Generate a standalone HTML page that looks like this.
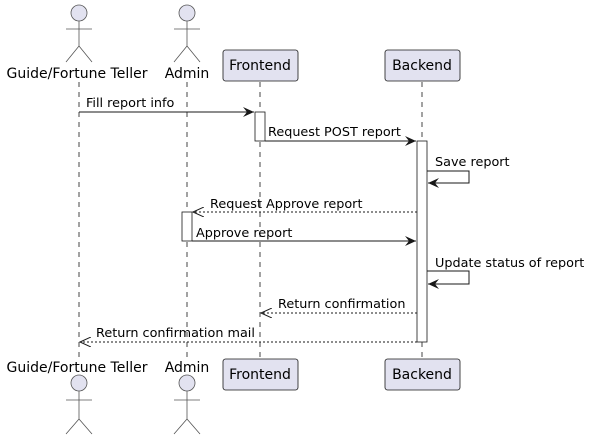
<!DOCTYPE html>
<html><head><style>body{margin:0;background:#fff}svg{display:block}text{font-family:"DejaVu Sans","Liberation Sans",sans-serif;fill:#000}</style></head><body>
<svg width="590" height="440" viewBox="0 0 590 440" xmlns="http://www.w3.org/2000/svg">
<defs>
<marker id="fa" markerWidth="12" markerHeight="10" refX="11" refY="5" orient="auto" markerUnits="userSpaceOnUse"><path d="M0,0 L11,5 L0,10 L4,5 Z" fill="#181818"/></marker>
<marker id="oa" markerWidth="12" markerHeight="10" refX="11" refY="5" orient="auto" markerUnits="userSpaceOnUse"><path d="M0,0 L11,5 L0,10" fill="none" stroke="#181818"/></marker>
</defs>
<g stroke="#181818" stroke-dasharray="5,5" stroke-width="0.8">
<line x1="79" y1="82" x2="79" y2="358"/><line x1="187" y1="82" x2="187" y2="358"/><line x1="260" y1="82" x2="260" y2="358"/><line x1="422" y1="82" x2="422" y2="358"/>
</g>
<g fill="#e2e2f0" stroke="#555" stroke-width="0.8">
<circle cx="79" cy="13" r="8"/><circle cx="187" cy="13" r="8"/>
<circle cx="79" cy="383" r="8"/><circle cx="187" cy="383" r="8"/>
</g>
<g fill="#e2e2f0" stroke="#181818" stroke-width="0.8">
<rect x="223" y="50" width="75" height="31" rx="2.5"/><rect x="385" y="50" width="75" height="31" rx="2.5"/>
<rect x="223" y="359" width="75" height="31" rx="2.5"/><rect x="385" y="359" width="75" height="31" rx="2.5"/>
</g>
<g stroke="#555" stroke-width="0.8" fill="none">
<path d="M79,21V46M66,29H92M66,62L79,46L92,62"/><path d="M187,21V46M174,29H200M174,62L187,46L200,62"/>
<path d="M79,391V419M66,400H92M66,434L79,419L92,434"/><path d="M187,391V419M174,400H200M174,434L187,419L200,434"/>
</g>
<g font-size="14" text-anchor="middle">
<text x="77" y="78">Guide/Fortune Teller</text><text x="187" y="78">Admin</text>
<text x="260" y="70">Frontend</text><text x="422" y="70">Backend</text>
<text x="77" y="372">Guide/Fortune Teller</text><text x="187" y="372">Admin</text>
<text x="260" y="379">Frontend</text><text x="422" y="379">Backend</text>
</g>
<g fill="#fff" stroke="#181818" stroke-width="0.8">
<rect x="255" y="112" width="10" height="29"/><rect x="417" y="141" width="10" height="201"/><rect x="182" y="212" width="10" height="29"/>
</g>
<g stroke="#181818" stroke-width="1" fill="none">
<line x1="79" y1="112" x2="254" y2="112" marker-end="url(#fa)"/>
<line x1="265" y1="141" x2="416" y2="141" marker-end="url(#fa)"/>
<path d="M427,171H469V183H428" marker-end="url(#fa)"/>
<line x1="417" y1="212" x2="193" y2="212" stroke-dasharray="2,2" marker-end="url(#oa)"/>
<line x1="192" y1="241" x2="416" y2="241" marker-end="url(#fa)"/>
<path d="M427,271H469V284H428" marker-end="url(#fa)"/>
<line x1="417" y1="313" x2="261" y2="313" stroke-dasharray="2,2" marker-end="url(#oa)"/>
<line x1="417" y1="342" x2="80" y2="342" stroke-dasharray="2,2" marker-end="url(#oa)"/>
</g>
<g font-size="12.8">
<text x="86" y="107">Fill report info</text>
<text x="268" y="136">Request POST report</text>
<text x="435" y="166">Save report</text>
<text x="210" y="208">Request Approve report</text>
<text x="196" y="237">Approve report</text>
<text x="435" y="267">Update status of report</text>
<text x="278" y="308">Return confirmation</text>
<text x="96" y="337">Return confirmation mail</text>
</g>
</svg>
</body></html>
